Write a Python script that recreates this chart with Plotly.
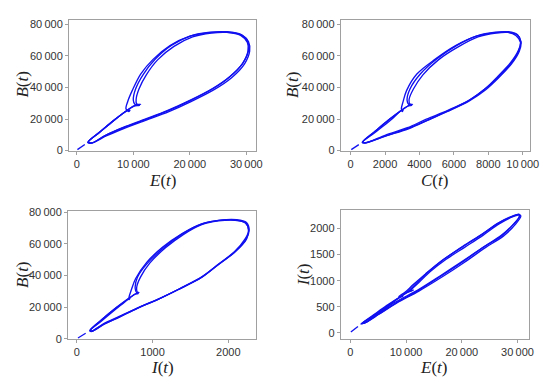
import plotly.graph_objects as go

# ---- data (phase portraits of one limit cycle) ----
# initial transient
E0 = [100, 1900]
B0 = [600, 5000]
C0 = [40, 650]
I0 = [15, 165]

# cycle 1 (outer)
E1 = [1900, 2600, 5000, 8000, 12000, 16000, 20000, 24000, 27000, 29300, 30300, 30200, 29000, 26500,
      23500, 20000, 16500, 13500, 11300, 9800, 9000, 8700, 9200, 9400, 8800, 6500, 4000, 1900]
B1 = [5200, 4700, 9500, 14200, 19500, 25000, 31500, 39000, 46500, 55000, 63000, 68500, 73000, 75000,
      74800, 72500, 66500, 57800, 48500, 38000, 31000, 26500, 24800, 25700, 25000, 19000, 11500, 5200]
C1 = [670, 800, 2100, 3350, 4500, 5620, 6840, 7800, 8580, 9300, 9750, 9870, 9600, 9140,
      8400, 7300, 6100, 4900, 3850, 3250, 3050, 2950, 3000, 3050, 2900, 2300, 1420, 670]
I1 = [170, 190, 350, 560, 800, 1070, 1350, 1650, 1850, 2080, 2220, 2270, 2230, 2100,
      1880, 1640, 1390, 1130, 925, 775, 720, 690, 690, 700, 675, 520, 330, 170]

# cycle 2 (inner, ends in hook)
E2 = [2100, 2800, 5200, 8300, 12300, 16300, 20300, 24300, 27400, 29700, 30600, 30400, 29200, 26700,
      23800, 20500, 17200, 14300, 12300, 11000, 10500, 10600, 11300, 10500, 9300, 6800, 4200, 2100]
B2 = [5600, 5000, 9300, 14000, 19300, 24700, 31200, 38600, 46200, 55000, 63000, 69000, 73200, 74900,
      74500, 72000, 66000, 57500, 48000, 39000, 32500, 29500, 29300, 28800, 26500, 19800, 12200, 5600]
C2 = [720, 850, 2050, 3400, 4500, 5600, 6850, 7850, 8600, 9350, 9800, 9900, 9700, 9150,
      8450, 7400, 6300, 5100, 4200, 3650, 3400, 3450, 3600, 3420, 3080, 2250, 1420, 720]
I2 = [180, 200, 360, 570, 800, 1060, 1340, 1640, 1850, 2090, 2240, 2265, 2230, 2090,
      1870, 1640, 1410, 1170, 965, 840, 790, 800, 820, 790, 710, 520, 330, 180]

# cycle 3
E3 = [2000, 2700, 5100, 8100, 12100, 16100, 20100, 24100, 27100, 29400, 30400, 30300, 29100, 26600,
      23600, 20200, 16800, 13900, 11800, 10400, 10000, 10300, 11100, 10200, 9100, 6600, 4100, 2000]
B3 = [5400, 4800, 9700, 14500, 19900, 25500, 32000, 39500, 47000, 55500, 63500, 69000, 73500, 75300,
      75000, 72700, 66800, 58000, 48500, 39000, 32000, 29200, 28600, 28400, 26000, 19300, 11800, 5400]
C3 = [700, 820, 2000, 3300, 4400, 5650, 6900, 7850, 8550, 9280, 9750, 9880, 9680, 9170,
      8420, 7350, 6200, 5000, 4050, 3450, 3280, 3380, 3550, 3350, 3020, 2200, 1380, 700]
I3 = [175, 195, 370, 590, 820, 1090, 1370, 1660, 1870, 2100, 2240, 2275, 2240, 2110,
      1890, 1660, 1410, 1160, 945, 800, 770, 790, 810, 775, 700, 510, 320, 175]

TICKS_B = [0, 20000, 40000, 60000, 80000]
TICKS_E = [0, 10000, 20000, 30000]
TICKS_C = [0, 2000, 4000, 6000, 8000, 10000]
TICKS_I_X = [0, 1000, 2000]
TICKS_I_Y = [0, 500, 1000, 1500, 2000]

W, H = 550, 379
BLUE = "#1010f0"
FRAME = "#a0a0a0"
LABEL = "#333333"


def fmt(v):
    return f"{v:,}".replace(",", "\u2009") if v >= 10000 else str(v)


fig = go.Figure()

panels = [
    ([E0, E1, E2, E3], [B0, B1, B2, B3], ""),
    ([C0, C1, C2, C3], [B0, B1, B2, B3], "2"),
    ([I0, I1, I2, I3], [B0, B1, B2, B3], "3"),
    ([E0, E1, E2, E3], [I0, I1, I2, I3], "4"),
]

for xs, ys, sfx in panels:
    for k, (xv, yv) in enumerate(zip(xs, ys)):
        fig.add_trace(go.Scatter(
            x=xv, y=yv, mode="lines",
            line=dict(color=BLUE, width=1.35, shape="spline", smoothing=0.9,
                      dash="dash" if k == 0 else "solid"),
            xaxis="x" + sfx, yaxis="y" + sfx, showlegend=False, hoverinfo="skip"))


def frame_px(x0, x1, y0, y1):
    return [x0 / W, x1 / W], [1 - y1 / H, 1 - y0 / H]


def axis(domain, rng, ticks, anchor):
    return dict(domain=domain, range=rng, tickvals=ticks, ticktext=[fmt(t) for t in ticks],
                showline=True, mirror=True, linecolor=FRAME, linewidth=1,
                ticks="outside", ticklen=3, tickcolor=FRAME, showgrid=False, zeroline=False,
                tickfont=dict(family="Liberation Sans, Arial", size=11, color=LABEL),
                anchor=anchor, fixedrange=True)


dx1, dy1 = frame_px(62, 252, 7.3, 141.7)
dx2, dy2 = frame_px(338.3, 531, 7.3, 141.7)
dx3, dy3 = frame_px(61, 252.3, 204, 335.7)
dx4, dy4 = frame_px(338.3, 530, 203.3, 335.7)

fig.update_layout(
    width=W, height=H, margin=dict(l=0, r=0, t=0, b=0),
    paper_bgcolor="white", plot_bgcolor="white",
    xaxis=axis(dx1, [-1390, 31700], TICKS_E, "y"),
    yaxis=axis(dy1, [0, 82700], TICKS_B, "x"),
    xaxis2=axis(dx2, [-571, 10440], TICKS_C, "y2"),
    yaxis2=axis(dy2, [0, 82700], TICKS_B, "x2"),
    xaxis3=axis(dx3, [-117, 2368], TICKS_I_X, "y3"),
    yaxis3=axis(dy3, [0, 80700], TICKS_B, "x3"),
    xaxis4=axis(dx4, [-1710, 32120], TICKS_E, "y4"),
    yaxis4=axis(dy4, [-119, 2349], TICKS_I_Y, "x4"),
)

titles = [
    ("<i>E</i>(<i>t</i>)", 157, 172, 0),
    ("<i>B</i>(<i>t</i>)", 15, 74, -90),
    ("<i>C</i>(<i>t</i>)", 434, 172, 0),
    ("<i>B</i>(<i>t</i>)", 290, 74, -90),
    ("<i>I</i>(<i>t</i>)", 157, 365, 0),
    ("<i>B</i>(<i>t</i>)", 14, 270, -90),
    ("<i>E</i>(<i>t</i>)", 433, 365, 0),
    ("<i>I</i>(<i>t</i>)", 300, 270, -90),
]
for txt, px, py, ang in titles:
    fig.add_annotation(text=txt, x=px / W, y=1 - py / H, xref="paper", yref="paper",
                       xanchor="center", yanchor="middle", showarrow=False, textangle=ang,
                       font=dict(family="Liberation Serif, Times New Roman", size=17, color="#222222"))

fig.write_html("out.html")
